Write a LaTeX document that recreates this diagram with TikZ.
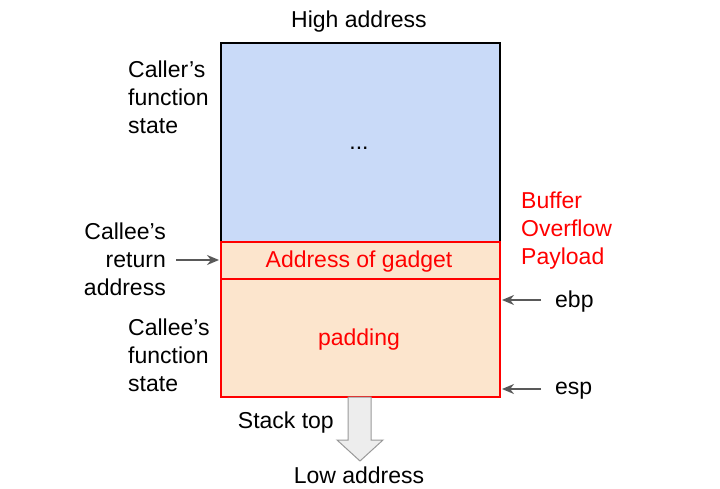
\documentclass[tikz,border=0pt]{standalone}
\usepackage{fontspec}
\setmainfont{Liberation Sans}
\usetikzlibrary{arrows.meta}
\definecolor{blueF}{HTML}{C9DAF8}
\definecolor{peach}{HTML}{FCE5CD}
\definecolor{redL}{HTML}{FF0000}
\definecolor{arrG}{HTML}{595959}
\tikzset{
  lbl/.style={font=\fontsize{23}{28}\selectfont, inner sep=0pt},
  redtxt/.style={lbl, text=redL},
  ptr/.style={draw=arrG, line width=1.8pt, -{Stealth[length=12pt,width=10pt]}},
}
\begin{document}
\begin{tikzpicture}[x=1pt,y=-1pt]
\useasboundingbox (0,0) rectangle (720,489);
% boxes
\node[draw=black, line width=1.6pt, fill=blueF, minimum width=279pt, minimum height=199pt, inner sep=0pt, anchor=north west] (caller) at (220,42) {};
\node[lbl] (dots) at (359,148) {...};
\node[draw=redL, line width=1.6pt, fill=peach, minimum width=279pt, minimum height=37pt, inner sep=0pt, anchor=north west] (gadget) at (220,241) {};
\node[redtxt] (gadgettxt) at (359,262) {Address of gadget};
\node[draw=redL, line width=1.6pt, fill=peach, minimum width=279pt, minimum height=118pt, inner sep=0pt, anchor=north west] (padding) at (220,278) {};
\node[redtxt] (paddingtxt) at (359,340) {padding};
% top/bottom labels
\node[lbl] (high) at (359,22) {High address};
\node[lbl] (low) at (359,475) {Low address};
\node[lbl, anchor=east] (stacktop) at (334,423) {Stack top};
% left labels
\node[lbl, align=left, anchor=west] (callerstate) at (128,97) {Caller’s\\function\\state};
\node[lbl, align=right, anchor=east] (retaddr) at (166,259) {Callee’s\\return\\address};
\node[lbl, align=left, anchor=west] (calleestate) at (128,355) {Callee’s\\function\\state};
% right labels
\node[redtxt, align=left, anchor=west] (payload) at (521,231) {Buffer\\Overflow\\Payload};
\node[lbl, anchor=west] (ebp) at (555,302) {ebp};
\node[lbl, anchor=west] (esp) at (555,391) {esp};
% pointers
\coordinate (ebpTip) at (502,300);
\coordinate (espTip) at (502,389);
\coordinate (retS) at (176,260);
\coordinate (retTip) at (219,260);
\coordinate (ebpS) at (541,300);
\coordinate (espS) at (541,389);
\draw[ptr] (retS) -- (retTip);
\draw[ptr] (ebpS) -- (ebpTip);
\draw[ptr] (espS) -- (espTip);
% stack arrow
\draw[draw=black!40, fill=black!7, line width=1pt]
  (348,397) -- (348,440) -- (337,440) -- (360,461) -- (383,440) -- (371,440) -- (371,397) -- cycle;
\end{tikzpicture}
\end{document}
